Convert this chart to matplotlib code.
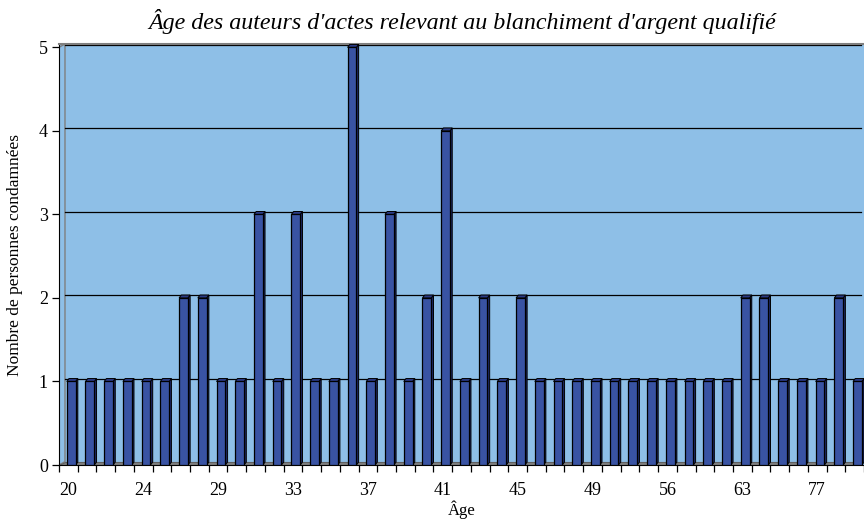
import numpy as np
import matplotlib.pyplot as plt

# ages (only every 4th one is printed on the axis)
ages = [20, 21, 22, 23, 24, 25, 26, 27, 28, 29,
        30, 31, 32, 33, 34, 35, 36, 37, 38, 39,
        40, 41, 42, 43, 44, 45, 46, 47, 48, 49,
        50, 52, 54, 56, 58, 60, 61, 63, 65, 67,
        77, 78, 80]
counts = [1, 1, 1, 1, 1, 1, 2, 2, 1, 1,
          3, 1, 3, 1, 1, 5, 1, 3, 1, 2,
          4, 1, 2, 1, 2, 1, 1, 1, 1, 1,
          1, 1, 1, 1, 1, 1, 2, 2, 1, 1,
          1, 2, 1]
shown_labels = ['20', '24', '29', '33', '37', '41', '45', '49', '56', '63', '77']

plt.rcParams['font.family'] = ['Liberation Serif', 'DejaVu Serif']

fig = plt.figure(figsize=(8.64, 5.22), dpi=100)
ax = fig.add_axes([59 / 864, 57 / 522, 1 - 59 / 864, 421 / 522])

bg = '#8ebfe7'
front = '#3953a3'
side = '#1c2766'
ax.set_facecolor(bg)

n = len(counts)
x = np.arange(n)
off = 0.15
w = 0.47
dx = 0.12
dy = 0.035

ax.set_xlim(-0.5, 42.34)
ax.set_ylim(0, 5.04)

# left wall and floor
ax.fill([-0.5, -0.18, -0.18, -0.5], [0, 0.04, 5.04, 5.0], color=bg,
        edgecolor='#7f7f7f', lw=1, zorder=1)
ax.fill([-0.5, 42.34, 42.34, -0.18], [0, 0, 0.04, 0.04], color='#808080',
        edgecolor='#606060', lw=0.8, zorder=1)

for yv in range(1, 6):
    ax.plot([-0.18, 42.34], [yv + 0.03, yv + 0.03], color='black', lw=0.9, zorder=1)

for xi, c in zip(x, counts):
    x0 = xi + off - w / 2
    x1 = xi + off + w / 2
    ax.fill([x1, x1 + dx, x1 + dx, x1], [0, dy, c + dy, c], color=side,
            edgecolor='black', lw=0.7, zorder=3)
    ax.fill([x0, x0 + dx, x1 + dx, x1], [c, c + dy, c + dy, c], color='#2a3a85',
            edgecolor='black', lw=0.7, zorder=3)
ax.bar(x + off, counts, width=w, color=front, edgecolor='black', lw=0.9, zorder=4)

ax.set_yticks(range(6))
ax.tick_params(axis='y', labelsize=13, length=5, width=0.9, direction='out', pad=3)

ax.set_xticks(x[::4])
ax.set_xticklabels(shown_labels)
ax.set_xticks(np.arange(-0.5, n, 1), minor=True)
ax.tick_params(axis='x', which='major', length=0, labelsize=13, pad=12)
ax.tick_params(axis='x', which='minor', length=5, width=0.9)

ax.spines['right'].set_visible(False)
ax.spines['top'].set_color('#7f7f7f')
ax.spines['top'].set_linewidth(1.5)
ax.spines['left'].set_color('black')
ax.spines['bottom'].set_color('black')

ax.set_xlabel('Âge', fontsize=12, labelpad=1)
ax.set_ylabel('Nombre de personnes condamnées', fontsize=12.5, labelpad=11)
fig.text(0.535, 0.958, "Âge des auteurs d'actes relevant au blanchiment d'argent qualifié",
         ha='center', va='center', fontsize=17.3, style='italic')

fig.savefig('out.png', dpi=100)
